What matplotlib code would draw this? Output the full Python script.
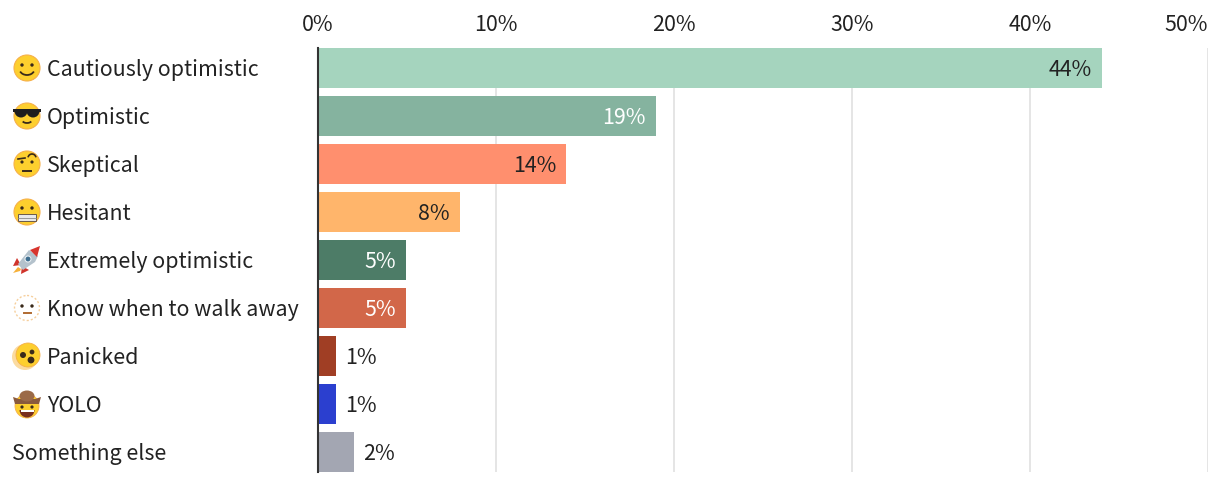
import matplotlib
matplotlib.use("Agg")
from matplotlib import pyplot as plt
from matplotlib.patches import Circle, Ellipse, Polygon, Rectangle, Arc, Wedge

labels = ["Cautiously optimistic", "Optimistic", "Skeptical", "Hesitant", "Extremely optimistic",
          "Know when to walk away", "Panicked", "YOLO", "Something else"]
values = [44.05, 19, 13.95, 8, 4.95, 4.95, 1, 1, 2]
colors = ["#a5d4be", "#85b39f", "#ff8f6e", "#ffb56b", "#4d7c67", "#d26749", "#a03e24", "#2b3fcf", "#a3a6b2"]
value_colors = ["#222222", "#ffffff", "#222222", "#222222", "#ffffff", "#ffffff", "#222222", "#222222", "#222222"]
icons = ["smile", "cool", "skeptic", "grimace", "rocket", "dotted", "panic", "cowboy", None]
x_ticks = [0, 10, 20, 30, 40, 50]

plt.rcParams['font.family'] = ['Noto Sans CJK SC', 'DejaVu Sans']
W, H = 1220, 482
FONT = 15.4
DARK = "#3a2a1a"
YEL = "#fdcf2e"
RIM = "#f6b04a"


def face(ov, x, y, fill=YEL, rim=RIM):
    ov.add_patch(Circle((x, y), 13, fc=fill, ec=rim, lw=0.8, zorder=3))


def eyes(ov, x, y, dy=-3, r=1.7):
    ov.add_patch(Circle((x - 5, y + dy), r, fc=DARK, zorder=4))
    ov.add_patch(Circle((x + 5, y + dy), r, fc=DARK, zorder=4))


def draw_icon(ov, kind, x, y):
    if kind == "smile":
        face(ov, x, y)
        eyes(ov, x, y, -3)
        ov.add_patch(Arc((x, y + 1), 15, 12, theta1=20, theta2=160, ec=DARK, lw=1.3, zorder=4))
    elif kind == "cool":
        face(ov, x, y)
        ov.add_patch(Rectangle((x - 14, y - 7), 28, 2.5, fc="#1e1e1e", zorder=4))
        ov.add_patch(Wedge((x - 6, y - 5), 6.5, 0, 180, fc="#1e1e1e", zorder=4))
        ov.add_patch(Wedge((x + 6, y - 5), 6.5, 0, 180, fc="#1e1e1e", zorder=4))
        ov.add_patch(Arc((x, y + 3), 11, 8, theta1=30, theta2=150, ec=DARK, lw=1.3, zorder=4))
    elif kind == "skeptic":
        face(ov, x, y)
        eyes(ov, x, y, -2, 1.6)
        ov.plot([x - 9, x - 2], [y - 5, y - 6], color=DARK, lw=1.2, zorder=4)
        ov.add_patch(Arc((x + 5, y - 6), 8, 8, theta1=190, theta2=350, ec=DARK, lw=1.2, zorder=4))
        ov.plot([x - 4, x + 4], [y + 7, y + 7], color=DARK, lw=1.4, zorder=4)
    elif kind == "grimace":
        face(ov, x, y)
        eyes(ov, x, y, -4)
        ov.add_patch(Rectangle((x - 9, y + 2), 18, 7, fc="#e8e8e8", ec="#6a5a4a", lw=0.7, zorder=4))
        ov.plot([x - 9, x + 9], [y + 5.5, y + 5.5], color="#8a8a8a", lw=0.6, zorder=5)
    elif kind == "rocket":
        ov.add_patch(Polygon([(x - 9, y + 7), (x - 14, y + 13), (x - 7, y + 11), (x - 6, y + 9)], fc="#f6b13a", zorder=3))
        ov.add_patch(Polygon([(x - 10, y - 2), (x - 14, y + 6), (x - 6, y + 5)], fc="#d0342c", zorder=3))
        ov.add_patch(Polygon([(x + 2, y + 10), (x - 6, y + 14), (x - 5, y + 6)], fc="#d0342c", zorder=3))
        ov.add_patch(Polygon([(x - 9, y + 4), (x + 2, y - 10), (x + 11, y - 4), (x + 8, y + 2), (x - 4, y + 10)], fc="#b4c2cc", zorder=4))
        ov.add_patch(Polygon([(x + 3, y - 10), (x + 13, y - 14), (x + 10, y - 3)], fc="#d8352e", zorder=5))
        ov.add_patch(Circle((x + 1, y - 1), 3, fc="#3f6f90", ec="#e8eef2", lw=0.8, zorder=6))
    elif kind == "dotted":
        ov.add_patch(Circle((x, y), 12.5, fc="none", ec="#f6cf9c", lw=1, ls=(0, (1.5, 1.5)), zorder=3))
        eyes(ov, x, y, -2, 1.7)
        ov.plot([x - 3.5, x + 3.5], [y + 5, y + 5], color="#b06a30", lw=1.4, zorder=4)
    elif kind == "panic":
        ov.add_patch(Circle((x - 2, y + 1), 13, fc="#fbdba0", ec="none", zorder=2))
        ov.add_patch(Circle((x + 1, y - 1), 12, fc=YEL, ec=RIM, lw=0.6, zorder=3))
        ov.add_patch(Circle((x - 4, y - 1), 3, fc=DARK, zorder=4))
        ov.add_patch(Circle((x + 5, y - 4), 2.4, fc=DARK, zorder=4))
        ov.add_patch(Circle((x + 4, y + 4), 3.4, fc=DARK, zorder=4))
    elif kind == "cowboy":
        ov.add_patch(Circle((x, y + 2), 12, fc=YEL, ec=RIM, lw=0.6, zorder=3))
        ov.add_patch(Polygon([(x - 14, y - 7), (x - 8, y - 5), (x + 8, y - 5), (x + 14, y - 7), (x + 12, y), (x - 12, y)], fc="#8a5a3c", zorder=4))
        ov.add_patch(Ellipse((x, y - 8), 15, 11, fc="#9b6a48", zorder=4))
        ov.add_patch(Circle((x - 5, y + 3), 1.6, fc=DARK, zorder=5))
        ov.add_patch(Circle((x + 5, y + 3), 1.6, fc=DARK, zorder=5))
        ov.add_patch(Wedge((x, y + 6), 7.5, 0, 180, fc="#7a2e1e", zorder=5))
        ov.add_patch(Rectangle((x - 6.5, y + 6), 13, 2, fc="#ffffff", zorder=6))


fig = plt.figure(figsize=(W / 100, H / 100), dpi=100)
ax = fig.add_axes([318 / W, 1 - 472 / H, 890 / W, 424 / H])
rows = list(range(len(labels)))

ax.barh(rows, values, height=40 / 48, color=colors, zorder=2)
ax.set_xlim(0, 50)
ax.set_ylim(8 + 20 / 48, -20 / 48)
ax.xaxis.tick_top()
ax.set_xticks(x_ticks)
ax.set_xticklabels([f"{t}%" for t in x_ticks])
ax.tick_params(axis='x', length=0, pad=8.6, labelsize=FONT, labelcolor="#222222")
ax.get_xticklabels()[-1].set_ha('right')
ax.set_yticks([])
ax.grid(axis='x', color="#e5e5e5", lw=1.4, zorder=0)
for side in ["top", "right", "bottom"]:
    ax.spines[side].set_visible(False)
ax.spines["left"].set_color("#333333")
ax.spines["left"].set_linewidth(1.5)
ax.spines["left"].set_zorder(4)

for i, v in enumerate(values):
    if v >= 4:
        ax.annotate(f"{round(v)}%", (v, i), xytext=(-7.4, -1.4), textcoords='offset points', ha='right',
                    va='center', fontsize=FONT, color=value_colors[i], zorder=5)
    else:
        ax.annotate(f"{round(v)}%", (v, i), xytext=(6.9, -1.4), textcoords='offset points', ha='left',
                    va='center', fontsize=FONT, color=value_colors[i], zorder=5)

trans = ax.get_yaxis_transform()
for i, lab in enumerate(labels):
    off = -306 if icons[i] is None else -271
    ax.annotate(lab, (0, i), xycoords=trans, xytext=(off * 0.72, -1.4), textcoords='offset points',
                ha='left', va='center', fontsize=FONT, color="#222222", annotation_clip=False)

# emoji glyphs are not installed, so they get drawn by hand on a pixel overlay
ov = fig.add_axes([0, 0, 1, 1], facecolor="none")
ov.set_xlim(0, W)
ov.set_ylim(H, 0)
ov.axis("off")
for i, kind in enumerate(icons):
    if kind:
        draw_icon(ov, kind, 27, 68 + 48 * i)

fig.savefig("out.png", dpi=100)
